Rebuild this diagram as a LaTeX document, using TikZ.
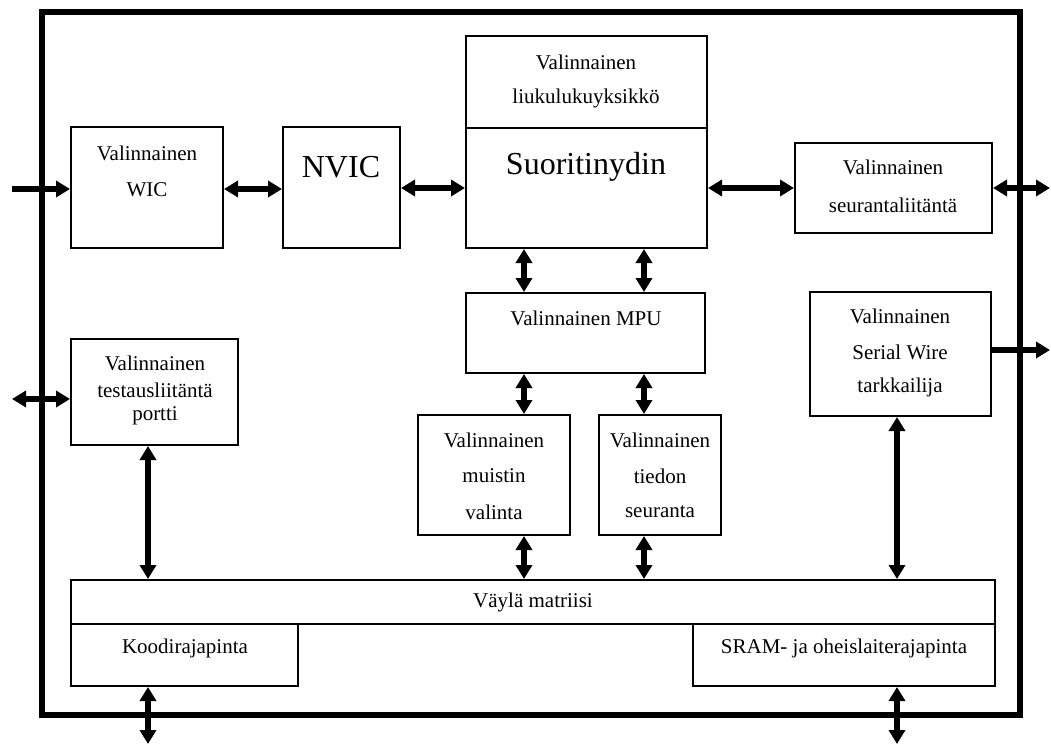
\documentclass[tikz,border=0pt]{standalone}
\usepackage{fontspec}
\setmainfont{Liberation Serif}
\usetikzlibrary{arrows.meta,fit}

\tikzset{
  blk/.style={draw, line width=1pt, inner sep=0pt, fill=white},
  txt/.style={inner sep=0pt, font=\fontsize{10.5}{12}\selectfont},
  bigtxt/.style={inner sep=0pt, font=\fontsize{16}{19}\selectfont},
  conn/.style={line width=2.8pt, -{Triangle[length=7pt,width=8pt]}},
  dconn/.style={line width=2.8pt, {Triangle[length=7pt,width=8pt]}-{Triangle[length=7pt,width=8pt]}},
}

\begin{document}
\begin{tikzpicture}[x=0.5pt,y=-0.5pt]
\useasboundingbox (0,0) rectangle (1051,744);

% processor outline
\draw[line width=2.6pt] (42,12) rectangle (1020,715);

% blocks
\node[blk, fit={(71,127)(223,248)}] (wic) {};
\node[blk, fit={(283,127)(400,248)}] (nvic) {};
\node[blk, fit={(466,36)(707,128)}] (fpu) {};
\node[blk, fit={(466,128)(707,248)}] (core) {};
\node[blk, fit={(795,143)(992,233)}] (etm) {};
\node[blk, fit={(466,293)(705,373)}] (mpu) {};
\node[blk, fit={(418,415)(570,535)}] (mem) {};
\node[blk, fit={(599,415)(721,535)}] (dwt) {};
\node[blk, fit={(810,292)(991,416)}] (swo) {};
\node[blk, fit={(71,339)(238,445)}] (dap) {};
\node[blk, fit={(71,580)(995,624)}] (bus) {};
\node[blk, fit={(71,624)(298,686)}] (code) {};
\node[blk, fit={(693,624)(995,686)}] (sram) {};

% labels
\node[txt] (wicA) at (147,153) {Valinnainen};
\node[txt] (wicB) at (147,190) {WIC};
\node[bigtxt] (nvicA) at (341,167) {NVIC};
\node[txt] (fpuA) at (586,62) {Valinnainen};
\node[txt] (fpuB) at (586,98) {liukulukuyksikkö};
\node[bigtxt] (coreA) at (586,167) {Suoritinydin};
\node[txt] (etmA) at (893,167) {Valinnainen};
\node[txt] (etmB) at (893,205) {seurantaliitäntä};
\node[txt] (mpuA) at (586,318) {Valinnainen MPU};
\node[txt] (memA) at (494,440) {Valinnainen};
\node[txt] (memB) at (494,476) {muistin};
\node[txt] (memC) at (494,512) {valinta};
\node[txt] (dwtA) at (660,440) {Valinnainen};
\node[txt] (dwtB) at (660,476) {tiedon};
\node[txt] (dwtC) at (660,512) {seuranta};
\node[txt] (swoA) at (900,316) {Valinnainen};
\node[txt] (swoB) at (900,352) {Serial Wire};
\node[txt] (swoC) at (900,387) {tarkkailija};
\node[txt] (dapA) at (155,363) {Valinnainen};
\node[txt] (dapB) at (155,390) {testausliitäntä};
\node[txt] (dapC) at (155,416) {portti};
\node[txt] (busA) at (533,602) {Väylä matriisi};
\node[txt] (codeA) at (185,648) {Koodirajapinta};
\node[txt] (sramA) at (844,648) {SRAM- ja oheislaiterajapinta};

% free ends and column positions
\coordinate (inW) at (12,189);
\coordinate (etmOut) at (1050,188);
\coordinate (swoOut) at (1050,350);
\coordinate (dapOut) at (12,399);
\coordinate (colA) at (524,0);
\coordinate (colB) at (644,0);
\coordinate (colL) at (148,0);
\coordinate (colR) at (897,0);
\coordinate (codeOut) at (148,744);
\coordinate (sramOut) at (897,744);

% connectors
\draw[conn] (inW) -- (wic.west |- inW);
\draw[dconn] (wic.east |- inW) -- (nvic.west |- inW);
\draw[dconn] (nvic.east |- etmOut) -- (core.west |- etmOut);
\draw[dconn] (core.east |- etmOut) -- (etm.west |- etmOut);
\draw[dconn] (etm.east |- etmOut) -- (etmOut);
\draw[conn] (swo.east |- swoOut) -- (swoOut);
\draw[dconn] (dapOut) -- (dap.west |- dapOut);

\draw[dconn] (core.south -| colA) -- (mpu.north -| colA);
\draw[dconn] (core.south -| colB) -- (mpu.north -| colB);
\draw[dconn] (mpu.south -| colA) -- (mem.north -| colA);
\draw[dconn] (mpu.south -| colB) -- (dwt.north -| colB);
\draw[dconn] (mem.south -| colA) -- (bus.north -| colA);
\draw[dconn] (dwt.south -| colB) -- (bus.north -| colB);
\draw[dconn] (dap.south -| colL) -- (bus.north -| colL);
\draw[dconn] (swo.south -| colR) -- (bus.north -| colR);
\draw[dconn] (code.south -| colL) -- (codeOut);
\draw[dconn] (sram.south -| colR) -- (sramOut);
\end{tikzpicture}
\end{document}
